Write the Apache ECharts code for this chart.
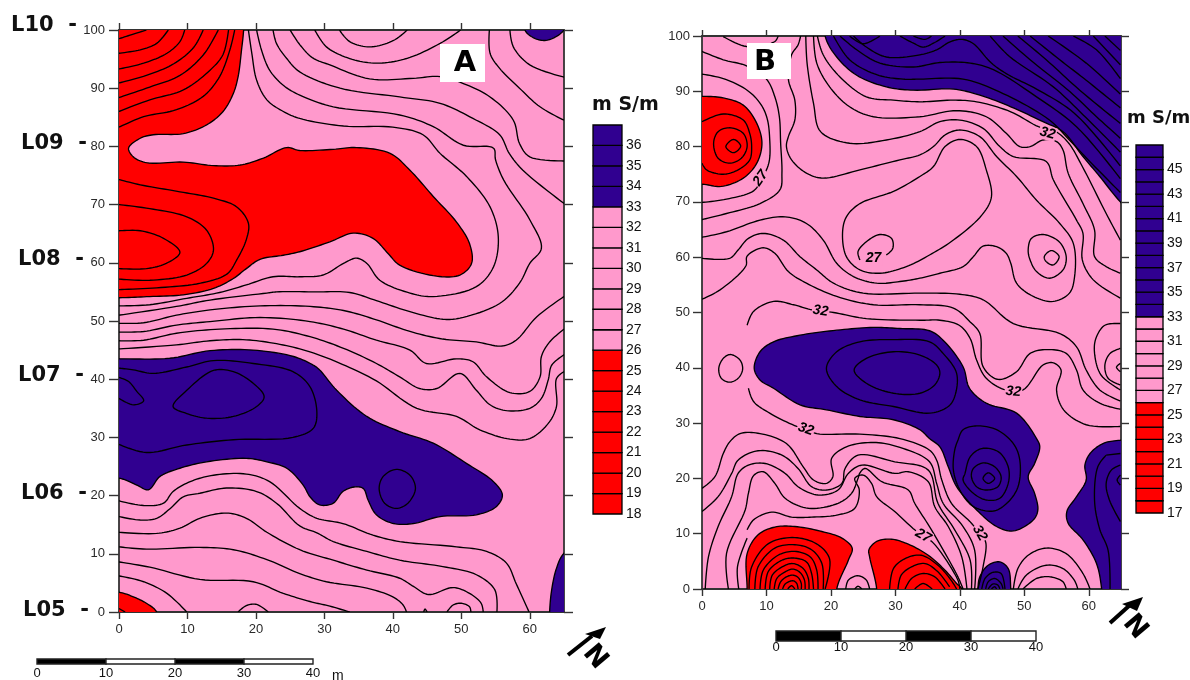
<!DOCTYPE html>
<html><head><meta charset="utf-8">
<style>html,body{margin:0;padding:0;background:#fff}#c{width:1190px;height:680px}</style>
<script src="https://cdn.jsdelivr.net/npm/echarts@6/dist/echarts.min.js"></script>
</head><body><div id="c"></div>
<script>
// ---------- ticks ----------
const xTicks=[0,10,20,30,40,50,60];
const yTicks=[0,10,20,30,40,50,60,70,80,90,100];
const scaleTicks=[0,10,20,30,40];
const legendALevels=[18,19,20,21,22,23,24,25,26,27,28,29,30,31,32,33,34,35,36];
const legendBLevels=[17,18,19,20,21,22,23,24,25,26,27,28,29,30,31,32,33,34,35,36,37,38,39,40,41,42,43,44,45,46];
const legendBTicks=[17,19,21,23,25,27,29,31,33,35,37,39,41,43,45];
const scaleBlack=[0,20];
const scaleWhite=[10,30];

// ---------- panel A: filled zones (data coords; points beyond the frame are clipped) ----------
const aRed=[[-8,54],[0,54],[4.5,54.2],[9.4,54.5],[13.8,55.6],[16.7,57.3],[18.6,59],[20.6,60.6],[24,61.3],[26.4,61.9],[30.8,63.6],[34.2,65.1],[37.1,64.2],[39.3,61.6],[41,59.6],[46.4,57.7],[49.8,57.9],[51.5,59.9],[51.2,63.3],[49.3,67],[45.9,71.4],[42.5,75.9],[39.6,78.8],[34.7,79.8],[31.3,79.5],[26.4,79.3],[24.5,79.8],[21.1,78],[17.7,76.8],[13.8,76.7],[9.4,77.3],[4,77.2],[2.1,78.2],[1.4,79.7],[3.1,81.4],[5,82],[9.4,82.2],[12.8,83.7],[15.2,86],[16.7,89.1],[17.4,92],[17.9,96.6],[18.2,100],[18.3,106],[-8,108]];
const aRedCorner=[[-6,3.6],[0,3.4],[2.1,2.6],[4,1.5],[5.5,0],[6.5,-6],[-6,-6]];
const aBlue=[[-8,43.5],[0,43.5],[7.4,43.6],[13.3,44.9],[19.6,45],[25.5,43.9],[28.4,42.4],[29.3,41.6],[31.8,38.1],[36.2,33.6],[41,31],[45.9,29],[50.8,25.5],[54.7,22.4],[56,20.1],[55.1,18.1],[52.2,16.7],[46.9,16.4],[43,15.2],[40.1,15.2],[37.6,16.7],[36.4,19.2],[35.7,21.2],[34.5,21.5],[32.7,20.7],[31.3,18.7],[29.3,18.4],[27.9,19.8],[26.9,21.8],[24.5,24.7],[21.6,25.8],[18.6,26.4],[12.8,25.8],[8.9,24.7],[6,23.3],[4.3,21],[2.6,21.8],[0,23],[-8,23]];
const aBlueTop=[[59.3,104],[59.3,100],[60.5,98.7],[62.2,98.2],[63.9,98.9],[65,100],[67,104]];
const aBlueCorner=[[70,14],[65,10.1],[63.9,7.5],[63.2,3.8],[62.9,0],[62.9,-6],[70,-6]];
// panel A: contours
const aRedLines=[
 [[0,98.5],[2.1,99.3],[4,100]],
 [[0,96],[3.1,96.6],[5.5,97.7],[7.2,100]],
 [[0,93.3],[3.6,94.3],[7,96],[8.9,98],[9.6,100]],
 [[0,90.9],[4,92.2],[8,94.2],[10.9,97],[12.3,100]],
 [[0,88.4],[4.5,90.2],[8.9,92.2],[12.3,95.7],[14.5,100]],
 [[0,86],[4.5,88],[9.4,89.7],[13.3,93.1],[15.2,95.8],[16,100]],
 [[0,83.3],[3.6,85.1],[8.4,86.3],[12.3,88.6],[14.7,92],[16.2,96.6],[16.9,100]],
 [[0,74.3],[3.1,73.4],[8.9,72.2],[13.8,71.1],[17.2,69.6],[18.9,66.8],[18.6,64],[17.2,60.5],[15.8,58.1],[11.9,56.5],[5.5,55.7],[0,55.4]],
 [[0,70],[4.5,69.3],[9.9,67.9],[12.8,65.6],[13.8,62.2],[12.8,59.9],[9.9,57.9],[4.5,57],[0,57.2]],
 [[0,65.5],[3.1,65.5],[6.5,64.2],[8.9,61.8],[6.9,59.9],[4,59],[0,59]],
 [[0,0.6],[0.9,0]]
];
const aUpperLines=[
 [[28.6,100],[30.3,97.1],[33.7,95.1],[37.6,94.3],[42,95.1],[46.9,97.7],[49.9,100]],
 [[32.2,100],[33.7,98],[36.6,97.1],[40.1,98.2],[42.1,100]],
 [[25,100],[26.4,97.5],[28.3,95.2],[30.8,94],[36.6,91.6],[43,91.7],[46.9,92],[50.3,90.8],[54.2,88.5],[57.6,84.5],[58.5,80.5],[60,78.2],[65,77.5]],
 [[54.1,100],[54.2,96],[55.6,93.4],[58.5,90],[61.5,86.8],[65,84.5]],
 [[57.1,100],[57.6,97.1],[60,94],[65,91.9]],
 [[22.5,100],[23,97.7],[24.5,95.1],[26.4,92.8],[32.3,90],[41,88.5],[46.9,87.4],[51.7,84.8],[55.6,82],[57,78.8],[59,75.9],[65,70.2]],
 [[20.1,100],[20.8,96.6],[22,93.1],[24,90.5],[26.4,88.8],[31.3,86.8],[41,85.4],[45.9,83.4],[50.3,80.2],[54.7,79.7],[55,77.7],[56.2,74.2],[60,67.4],[61.7,62.5],[60,59.9],[58.5,56.5],[55.6,53],[49.8,50.5],[47.3,50.3],[42.5,51.6],[37.6,53.5],[33.7,54.9],[28.9,55],[23,55],[21.6,54.8],[13.3,53.6],[8.4,52.5],[0,51]],
 [[18.9,100],[19.4,96],[20.1,91.4],[21.6,88],[24,86],[26.4,84.8],[32.8,83.5],[40,83.3],[44.4,82],[46.9,78.8],[50.8,74.8],[54.2,69.6],[55.4,64.5],[54.7,59.3],[52.2,55.9],[45.9,54.2],[42.5,54.8],[38.1,57],[36.2,59.9],[34.7,60.8],[32.8,59.9],[29.8,57.9],[26.4,57.6],[22.5,57.6],[18.6,56.2],[14.7,54.9],[9.9,53.9],[4.5,52.8],[0,52.6]]
];
const aMiddleLines=[
 [[0,49.6],[3.6,49.7],[8.4,51],[13.3,51.9],[20.6,52.6],[27.9,52.5],[32.8,51.8],[37.6,50.2],[42.5,48.2],[47.3,46.9],[52.2,46.4],[55.9,45.7],[58,46.7],[61,50.7],[65,54.2]],
 [[0,48.1],[3.6,48.2],[8.4,49.3],[13.3,49.9],[20.6,50.6],[27.9,49.9],[32.8,48.6],[37.6,46.7],[42.5,45],[44.9,42.7],[49.3,43.5],[51.7,43],[53.7,40.4],[57.1,37.7],[60,37.9],[61.5,40.4],[61.7,43.9],[62.9,46.4],[65,48.6]],
 [[0,46.6],[3.6,46.7],[8.4,47.9],[14.7,48.6],[22.5,48.6],[27.9,47.3],[32.8,45.3],[37.6,42.7],[41,40.4],[43.9,38.4],[46.4,38.4],[49.8,41],[52.2,38.1],[54.2,35.6],[56.6,34.6],[60,35],[61.7,36.7],[62.7,39.9],[63.2,42.4],[65,44.2]],
 [[0,45.2],[8.4,45.9],[13.3,46.6],[18.1,46.8],[23,46.1],[27.9,44.7],[33.7,42],[37.6,39.7],[43.5,35],[49.3,33.6],[52.7,31.3],[57.1,29.7],[60,29.8],[62.7,32.4],[63.9,35.3],[63.9,40.1],[65,41.3]]
];
const aBlueLines=[
 [[0,41.9],[2.1,41.6],[5,41],[9.9,42.1],[13.8,43.2],[19.6,42.7],[25.4,41.3],[27.9,38.7],[28.9,34.4],[28.4,31.6],[25.4,30],[16.7,29.6],[9.9,28.7],[4,27.4],[0,28.8]],
 [[0,40.3],[1.4,39.6],[2.6,37.9],[3.6,36.3],[2.1,35.6],[0,36.7]]
];
const aLoops=[
 [[7.9,35.3],[9.9,38.1],[13.8,41.5],[16.7,41.3],[19.6,39.3],[21.2,37],[20.1,35.3],[16.7,33.6],[12.8,33.3],[9.9,34.1]],
 [[40.5,24.5],[42.5,23.5],[43.3,21.2],[42.2,18.7],[40.5,17.8],[38.8,18.7],[38,21.2],[38.6,23.3]]
];
const aLowerLines=[
 [[0,19.1],[3.6,18.3],[6.5,18.7],[7.9,20.7],[10.4,22.4],[13.8,23.5],[18.6,23.7],[22,22.4],[26.4,17.8],[28.9,16.1],[32.7,15.2],[37.1,13.2],[41,12.1],[49.3,11.2],[53.7,10.4],[56.6,8.4],[58,4.9],[59.9,0]],
 [[0,16.4],[3.1,15.8],[5.5,16.1],[7.5,17.8],[9.4,19.8],[11.8,20.4],[15.7,21.3],[20.1,20.7],[23,18.7],[26.4,14.8],[28.9,13.6],[31.3,12.1],[36.2,10.4],[41,8.9],[47.3,7.8],[52.2,6.4],[54.9,3.8],[55.2,0]],
 [[0,13.7],[5.5,13.5],[8.9,14.4],[11.8,16.1],[15.7,17],[18.6,16.1],[21.6,13.7],[26.4,10.7],[31.3,8.9],[36.2,7.2],[41,5.8],[43,4.4],[45.2,3],[48.8,4.2],[51.2,3.2],[52.9,1.5],[53.2,0]],
 [[0,11.2],[4,10.8],[11.8,11.1],[16.7,10.7],[21.6,9],[26.4,6.6],[30.3,5.2],[36.2,4.1],[40,2.6],[41.5,1.2],[42,0]],
 [[0,8.6],[4.5,7.7],[11.8,5.6],[19.6,5.2],[24,3.2],[27.9,1.8],[30.8,1],[33.7,0]],
 [[0,6.2],[3.6,5.2],[7,3.2],[9.9,0]],
 [[17.4,0],[18.6,1.1],[20.1,1.3],[21.8,0]],
 [[47.9,0],[48.8,1.2],[50,1.5],[51.2,0.9],[51.4,0]],
 [[44.5,0],[44.7,0.5],[45,0]]
];

// ---------- panel B: filled zones ----------
const bRedCircle=[[0,89.1],[3.3,88.8],[6.4,87.5],[8.5,84.2],[9.3,80.6],[8.5,77],[6.4,74.3],[3,72.8],[0,73.2],[-6,73],[-6,89]];
const bRedLobe1=[[7,0],[7,6.4],[8.7,9.8],[11.3,11.2],[14.4,11.3],[18.6,10.4],[21.7,9.2],[23.3,7.4],[22.7,5.2],[20.9,0],[20.9,-6],[7,-6]];
const bRedLobe2=[[27.1,0],[26,5.8],[25.9,7.1],[27.1,8.6],[29.4,9],[32,8.1],[35.1,6.1],[37.7,3.4],[39.5,1],[40.3,0],[41,-6],[27,-6]];
const bBlueTop=[[19.1,100],[20.9,96.2],[24,92.9],[28.6,90.8],[32.8,90.2],[39,90.4],[43.1,89.3],[47.9,87.2],[52.9,84.5],[56,82.7],[59.1,78.2],[61.7,74.6],[64.9,70],[71,63],[72,108],[19,108]];
const bBlueCentre=[[8.1,39.9],[9,42.9],[11.1,44.7],[15.2,45.9],[20.9,46.8],[26.6,47.3],[30.7,47.1],[35.3,46.7],[37.4,45],[40.5,40.2],[41.5,36.3],[44.1,33.6],[48.8,31.8],[51.9,27.2],[52.4,25.7],[51.6,22.7],[50.6,20.3],[51.6,17.3],[52.1,14.3],[51.4,12.5],[48.3,10.5],[45.7,11.3],[42.6,14.3],[39.5,18.5],[38.2,22.1],[36.9,25.7],[35.3,27.2],[33.8,28.8],[29.7,30.6],[24.5,31.2],[19.3,32.4],[15.2,33.3],[11.1,36.3],[9,37.8]];
const bBlueBlob=[[42.8,0],[43.1,2.2],[44.4,4.3],[46.2,4.9],[47.5,3.7],[47.9,0],[48,-6],[42.7,-6]];
const bBlueRight=[[72,27],[64.9,26.9],[62.2,26.3],[60.2,24.5],[59.4,22.4],[59.6,19.7],[58.1,16.7],[56.6,14],[56.8,11.9],[59.1,8.9],[61.2,4.6],[62,0],[62.3,-6],[72,-6]];
// panel B: contours
const bTopLines=[
 [[62.5,100],[64.9,97.4]],
 [[60.7,100],[64.9,94.8]],
 [[57.6,100],[61.2,97.5],[64.9,92.3]],
 [[53.7,100],[59.6,95.1],[64.9,89.5]],
 [[50.9,100],[55.5,95.7],[59.6,92],[64.9,87]],
 [[49,100],[53.4,95.7],[58.6,90.2],[64.9,84.2]],
 [[46.7,100],[50.9,95.7],[57.1,89.9],[61.2,85.4],[64.9,81.5]],
 [[44.7,100],[47.7,96.3],[54.5,90.8],[59.6,85.2],[64.9,79]],
 [[23.5,100],[25.5,98],[28.6,96.2],[33.8,96.6],[36.4,97.5],[38.4,98.9],[40.2,99.4],[42,98.7],[44.9,95.1],[47.5,93],[51.9,90.4],[57.8,86],[64.9,76.5]],
 [[21.4,100],[24,97.5],[27.6,95.1],[32.8,94.4],[36.9,95.2],[41.6,95.1],[45.2,93.9],[51.9,89],[58.1,83.6],[64.9,74.2]],
 [[20.4,100],[22.9,95.7],[27.1,93],[31.2,92.2],[33.8,92.2],[40.5,92.2],[46.7,89.6],[53.9,84.8],[57,81.2],[60,77.5],[64.9,71.7]],
 [[22.9,100],[25,98.6],[27.6,100]],
 [[30.7,100],[32.8,98.7],[34.3,98],[35.9,98.7],[37.7,100]],
 [[32.8,100],[34.6,99.4],[35.6,100]]
];
const bUpperLines=[
 [[3.3,99.9],[6.9,98.1],[11.3,99],[11.8,100]],
 [[0,97.2],[3.3,95.7],[6.9,94.6],[10,92.2],[11.3,89],[12,85.4],[12.2,80.6],[12.4,75.2],[12.1,72.2],[9,69.7],[3.8,67.9],[0,66.8]],
 [[0,93.1],[3.3,92.3],[7,90.2],[9.1,87.7],[10.1,85.1],[10.5,81.4],[10.4,77.2],[9.3,74.2],[8,72],[3.8,70.5],[0,69.9]],
 [[15.3,100],[14.9,98.4],[13.9,96.6],[13.4,92.2],[14.4,88.4],[14.4,84.8],[13.4,81.8],[13.1,80],[13.9,77.6],[16.2,75.2],[18.8,74.3],[24.5,75.8],[30.7,77.6],[33.8,78.5],[35.9,80],[37.7,82.1],[40,83],[43.1,81.8],[45.7,78.2],[48.8,74.6],[51.9,70.3],[55.5,66.1],[57.6,62.5],[57.8,56.5],[57,53.5],[54.5,52],[51.4,52.9],[48.8,55.3],[47.9,58.9],[47.2,60.7],[45.7,61.9],[43.6,62],[42.1,60.1],[40.5,58.3],[36.9,57.1],[33.8,56.2],[30.7,55.6],[27.1,55.3],[23.5,56.5],[20.9,58.9],[18.8,63.1],[16.2,66.1],[12.9,67.3],[9,66.7],[3.8,64.6],[0,63.6]],
 [[17.9,100],[18.8,96.6],[21.4,92.6],[25.5,89],[29.7,88.4],[33.8,88.1],[39,88.4],[42.6,88.1],[47.9,86.3],[52.2,83.6],[54.9,82.7],[56.9,80.6],[59,76.4],[62.7,67.9],[64.9,63.1]],
 [[17.3,100],[17.8,95.1],[19.8,90.8],[22.9,87.2],[26.6,85.4],[33.8,85.4],[39.5,86.5],[44.1,85.4],[47.2,82.4],[49.3,80],[50.9,80],[52.9,81.2],[55,80.9],[56,79.4],[56.8,75.2],[59.1,69.7],[60.9,64.9],[60.9,60.1],[62.7,58.3],[64.9,57.1]],
 [[16.1,100],[16.3,95.1],[17.3,87.8],[18.4,82.7],[22.9,80.6],[28.6,81.2],[33.8,82.7],[36.9,84.5],[40,84.8],[43.6,83.3],[46.2,80],[48.3,78.2],[53.4,77.3],[54.5,74],[58.1,66.7],[59.1,64.3],[59,59.5],[60.7,55.9],[64.9,52.6]],
 [[24.5,59.5],[24.2,61],[25.5,62.8],[27.6,64.1],[29.4,63.4],[29.6,61.6],[28.6,60.4]]
];
const bMiddleLines=[
 [[0,59.8],[4.3,59.8],[5.6,61.3],[7.2,63.4],[9.5,64.3],[12.6,63.1],[15.2,60.1],[17.8,57.7],[20.4,55.3],[25,53.5],[33.8,53.5],[40,53.3],[43.6,52.3],[48.3,48],[55.5,46.2],[58.1,43.8],[59.6,39.6],[61.7,36],[64.9,34]],
 [[0,52.4],[2.8,54.1],[6.8,58.4],[7,60.2],[9.5,61.7],[11.3,60.7],[13.4,57.4],[16.2,55.3],[20.9,52.9],[26.6,51.4],[33.8,51.4],[39,50.8],[41.6,48.3],[43.1,46.2],[43.6,40.2],[45.9,37.9],[48.8,39.3],[50.9,42.6],[53.7,43.3],[56.5,42.6],[58.1,39.6],[59.1,36],[61.7,33.6],[64.9,32.5]],
 [[7,47.7],[8,50.2],[11.1,52],[14.2,51.4],[17,50.5],[20.4,50],[25.5,48.9],[33.8,48.6],[36.9,48.6],[39.9,47.7],[41.6,45.3],[42.6,41.4],[44.1,38.1],[47.1,36],[49.8,36],[52.9,40.5],[54.5,40.9],[55.7,39.6],[55,36],[56.1,32.4],[59.6,29.7],[64.9,29.4]],
 [[7.2,36.3],[8,33.9],[10.5,31.8],[14.7,29.4],[16.2,28.9],[17.8,28.1],[24.5,28],[30.7,27.2],[35.3,25.1],[36.4,23.3],[37.2,19.7],[38.7,15.5],[41.8,11.9],[43.1,9.8],[44,8.5],[43.6,4],[42.8,0]],
 [[64.9,48],[62.5,47.7],[61.1,45.3],[60.9,42.6],[61.9,38.7],[64.9,36]],
 [[64.9,43.5],[63.3,42.6],[62.5,40.5],[63,38.1],[64.9,36.9]],
 [[64.9,40.8],[64.3,40.1],[64.9,39.3]]
];
const bLowerLines=[
 [[0,18.2],[2,20.3],[3.3,24.5],[4.3,26.6],[5.9,28.1],[9,28.1],[13.1,26.3],[15.7,22.1],[17.3,19.7],[19.3,19.1],[20.3,20.3],[20.1,23.6],[22.4,25.7],[26.6,26.5],[30.7,25.6],[35.3,23],[36.4,19.1],[37.4,15.5],[40.5,11.3],[42.3,7],[42.3,0]],
 [[0,14],[2.5,16.7],[4.6,20.9],[5.6,23.3],[8.7,25],[12.4,24.2],[14.9,21.8],[17,18.5],[19.3,17.9],[21.7,19.1],[22.2,21.8],[24.2,24.2],[29.9,23],[35.1,21.5],[36.6,15.5],[39.2,10.7],[41.6,5.2],[41.8,0]],
 [[0.5,0],[1,5.8],[2.5,11.3],[4.6,16.7],[5.6,20.9],[7.2,22.4],[9.8,22.7],[12.9,20.9],[14.9,18.5],[18,17],[21.1,17.9],[22.7,20.9],[24.8,22.4],[29.9,20.9],[32,21.2],[35.1,19.4],[36.1,14.9],[38.2,11.3],[40.3,5.8],[41.1,0]],
 [[4.1,0],[3.8,6.4],[6.7,14.3],[7.2,17.3],[8,20.5],[9.5,21.2],[11.3,19.1],[12.9,16.4],[16.5,14.6],[21.1,15.5],[23.2,17.3],[24.2,20],[24.5,21],[25.3,21.8],[27.9,19.4],[32,17.9],[33,15.5],[35.6,10.7],[39.7,2.2],[40.5,0]],
 [[5.7,0],[5.5,4],[7,9.2]],
 [[7,10.7],[8,12.5],[10.8,13.9],[13.9,13],[17,13],[21.1,13.4],[23.7,14.6],[24.4,17.9],[23.7,20],[25,20.6],[26.3,19.1],[27.1,16.7],[29.9,14],[33,10.7],[34.3,9.6],[35.9,8.3],[39.7,1.6],[40,0]],
 [[22.3,0],[22.7,1.6],[24.2,2.4],[25.5,1.6],[26,0]],
 [[23.7,0],[24.2,0.5],[24.8,0]],
 [[48.3,0],[49,3.7],[50.6,6.1],[53.4,7.4],[56.5,6.4],[59.1,2.8],[60.2,0]],
 [[49,0],[50.3,2.5],[53.4,4.3],[56,3.7],[57.8,1.5],[58.3,0]],
 [[49.8,0],[51.9,1.9],[54,2.2],[56,1.3],[56.5,0]],
 [[62.7,24.2],[61.4,22.1],[60.9,15.9],[61.7,10.8],[63,7],[63.3,0]],
 [[64.9,24.5],[62.7,24.2]],
 [[64.9,22.4],[63.5,21.5],[62.7,19.1],[63.2,16.1],[64.9,12.2]],
 [[64.9,20.6],[64.4,19.7],[64.9,18.8]]
];
const bRedLines=[
 [[0,84.5],[3.3,85.9],[6.4,84.8],[7.4,82.4],[7.7,80],[7.4,77.6],[5.6,75.8],[3.3,75],[0.7,75.8],[0,77]],
 [[7.3,0],[7.7,4],[10.3,8.2],[14.4,9.3],[18,8],[19.8,5.4],[19.1,0]],
 [[8.2,0],[8.7,4],[11.3,7.4],[14.4,8],[17,7.1],[18.6,4.6],[18.8,0]],
 [[9,0],[9.5,3.4],[11.8,6.1],[14.4,6.8],[16.8,5.8],[17.8,3.4],[18,0]],
 [[9.8,0],[10.3,3.2],[12.4,5.2],[14.2,5.6],[16.2,4.9],[17,2.8],[17.3,0]],
 [[10.5,0],[10.9,2.5],[12.6,4.1],[14.1,4.6],[15.7,3.7],[16.5,1.9],[16.6,0]],
 [[11.2,0],[11.6,1.9],[12.9,3.1],[14.1,3.6],[15.2,3],[15.9,1.6],[16,0]],
 [[11.8,0],[12.2,1.3],[13.1,2.2],[14.1,2.5],[14.9,2.1],[15.4,1],[15.4,0]],
 [[12.5,0],[12.9,0.9],[14.1,1.5],[14.7,1],[14.9,0]],
 [[13.3,0],[13.9,0.6],[14.4,0]],
 [[29.1,0],[29.7,3.7],[31.5,5.5],[34,6.1],[36.6,4.3],[38.7,1.5],[39.5,0]],
 [[30.4,0],[30.9,2.5],[32.5,4],[34.6,4.6],[36.6,3.1],[38.4,0.4]],
 [[31.5,0],[32.5,1.9],[34.3,2.8],[36.1,2.2],[37.7,0]],
 [[33,0],[34.3,1],[35.7,0]],
 [[43.4,0],[43.9,1.9],[45.1,3],[46.4,2.8],[47,0]],
 [[44,0],[44.4,1.3],[45.4,1.9],[46.4,1],[46.7,0]],
 [[44.4,0],[45.1,0.9],[45.9,0.7],[46.2,0]],
 [[44.9,0],[45.4,0.4],[45.7,0]]
];
const bLoops=[
 [[1.8,80.6],[2.5,82.7],[4.3,83.4],[6.4,82.4],[7,80],[6.1,77.9],[4.3,77],[2.5,77.9]],
 [[3.7,80],[4.9,81.3],[6,80.1],[4.9,78.9]],
 [[33.8,74.6],[29.7,71.9],[24.5,69.7],[22.4,67.3],[21.8,64.3],[22.4,60.1],[24.5,57.7],[27.6,57.1],[31.7,58.3],[35.3,60.4],[39,63.1],[43.4,67.6],[44.9,70.9],[44.1,75.8],[42.6,80],[40,81.3],[37.7,80],[35.9,76.4]],
 [[50.6,61.3],[51.1,63.4],[52.9,64.1],[55.4,62.8],[56.5,60.1],[56,57.7],[53.9,56.2],[51.9,57.4],[50.9,59.5]],
 [[53.1,60.1],[54.2,61.2],[55.4,60.1],[54.5,58.6],[53.4,59.2]],
 [[2.6,39.9],[3.3,41.7],[4.4,42.4],[5.9,41.4],[6.3,39.7],[5.6,38.1],[4.3,37.4],[3,38.1]],
 [[19.3,39.9],[20.9,42.9],[24.5,44.7],[29.7,45.1],[35.3,44.7],[37.4,42.6],[39.5,39],[39.2,34.8],[38.2,33],[35.3,31.8],[29.7,33],[24.5,34.2],[20.9,36.6]],
 [[23.6,39.6],[25.5,41.7],[29.7,42.9],[33.8,42.3],[36.4,40.5],[36.9,39],[36.1,36.9],[33.8,35.4],[29.7,35.4],[25.5,37.2]],
 [[39.7,26.9],[40.5,28.8],[42.6,29.5],[45.7,28.8],[48.3,26.3],[49.3,23.3],[49,18.4],[47.2,15.4],[45.2,14.1],[42.1,14.9],[40,17.9],[39,21.5],[39.2,25.1]],
 [[40.8,20.9],[41.6,23.9],[43.4,25.4],[46,24.8],[47.5,22.1],[47.5,19.1],[46.2,16.4],[44.1,16.1],[42.1,17.3],[40.5,19.7]],
 [[41.8,20.3],[42.1,21.8],[43.6,22.8],[45.4,22.1],[46.4,20.3],[45.9,18.5],[44.1,17.9],[42.6,18.5]],
 [[43.6,20],[44.4,21],[45.4,20],[44.4,19.1]]
];
// contour value labels: x, y, text, rotation in degrees (counter-clockwise)
const bContourLabels=[[9.1,74.3,'27',55],[26.6,59.8,'27',0],[18.4,50.3,'32',-8],[53.6,82.4,'32',-15],[16.1,28.9,'32',-20],[48.3,35.7,'32',-5],[34.3,9.6,'27',-30],[43.1,10.1,'32',-60]];

// ---------- styles ----------
const PINK='#ff99cc',RED='#ff0000',BLUE='#300090',INK='#000000';
const AXC='#333333',FONT='"Liberation Sans",Arial,sans-serif',BOLD='"DejaVu Sans",sans-serif';
const LW=1.35;

function spline(p,closed){
  const n=p.length;if(n<3)return p;const out=[];
  const at=i=>closed?p[(i+n)%n]:p[Math.max(0,Math.min(n-1,i))];
  const segs=closed?n:n-1;const K=10;
  for(let i=0;i<segs;i++){
    const P0=at(i-1),P1=at(i),P2=at(i+1),P3=at(i+2);
    const d=(a,b)=>Math.max(1e-3,Math.pow(Math.hypot(a[0]-b[0],a[1]-b[1]),0.5));
    const t0=0,t1=t0+d(P0,P1),t2=t1+d(P1,P2),t3=t2+d(P2,P3);
    for(let k=0;k<K;k++){
      const t=t1+(t2-t1)*k/K;
      const L=(a,b,ta,tb)=>[a[0]+(b[0]-a[0])*(t-ta)/(tb-ta),a[1]+(b[1]-a[1])*(t-ta)/(tb-ta)];
      const A1=L(P0,P1,t0,t1),A2=L(P1,P2,t1,t2),A3=L(P2,P3,t2,t3);
      const B1=L(A1,A2,t0,t2),B2=L(A2,A3,t1,t3);
      out.push(L(B1,B2,t1,t2));
    }
  }
  if(!closed)out.push(p[n-1]);
  return out;
}
function contourSeries(grid,fills,lines,loops,labels){
  const items=[];
  fills.forEach(f=>items.push({pts:f[0],fill:f[1],closed:true}));
  lines.forEach(l=>items.push({pts:l,closed:false}));
  loops.forEach(l=>items.push({pts:l,closed:true}));
  labels.forEach(t=>items.push({label:t}));
  return {type:'custom',coordinateSystem:'cartesian2d',xAxisIndex:grid.x,yAxisIndex:grid.y,clip:true,silent:true,animation:false,
    data:items.map(()=>[0,0]),
    renderItem(params,api){
      const it=items[params.dataIndex];
      if(it.label){
        const c=api.coord([it.label[0],it.label[1]]);
        return {type:'text',x:c[0],y:c[1],rotation:it.label[3]*Math.PI/180,
          style:{text:it.label[2],x:0,y:0,align:'center',verticalAlign:'middle',fill:'#000',font:'italic bold 14px '+FONT,backgroundColor:PINK,padding:[0,1]}};
      }
      const px=spline(it.pts.map(p=>api.coord(p)),it.closed);
      if(it.closed&&it.fill)return {type:'polygon',shape:{points:px},style:{fill:it.fill,stroke:INK,lineWidth:LW}};
      if(it.closed)return {type:'polygon',shape:{points:px},style:{fill:'none',stroke:INK,lineWidth:LW}};
      return {type:'polyline',shape:{points:px},style:{fill:'none',stroke:INK,lineWidth:LW}};
    }};
}
function valAxisX(grid,pos,show,len,margin){
  return {type:'value',gridIndex:grid,position:pos,min:0,max:65,
    axisLine:{show:true,onZero:false,lineStyle:{color:AXC,width:1.8}},
    axisTick:{show:true,length:len,customValues:xTicks,lineStyle:{color:AXC,width:1.4}},
    axisLabel:{show,customValues:xTicks,margin,fontFamily:FONT,fontSize:13,color:'#2a2a2a'},splitLine:{show:false}};
}
function valAxisY(grid,pos,show,len,margin){
  return {type:'value',gridIndex:grid,position:pos,min:0,max:100,
    axisLine:{show:true,onZero:false,lineStyle:{color:AXC,width:1.8}},
    axisTick:{show:true,length:len,customValues:yTicks,lineStyle:{color:AXC,width:1.4}},
    axisLabel:{show,customValues:yTicks,margin,fontFamily:FONT,fontSize:13,color:'#2a2a2a'},splitLine:{show:false}};
}
function legendSeries(xi,yi,levels,redTop,blueFrom){
  return {type:'custom',coordinateSystem:'cartesian2d',xAxisIndex:xi,yAxisIndex:yi,silent:true,animation:false,
    data:levels.map(v=>[0,v]),
    renderItem(params,api){
      const v=api.value(1);const a=api.coord([0,v+1]),b=api.coord([1,v]);
      const col=v<redTop?RED:(v<blueFrom?PINK:BLUE);
      return {type:'rect',shape:{x:a[0],y:a[1],width:b[0]-a[0],height:b[1]-a[1]},style:{fill:col,stroke:'#000',lineWidth:1.3}};
    }};
}
function legendAxes(grid,min,max,ticks){
  return {y:{type:'value',gridIndex:grid,position:'right',min,max,interval:1,axisLine:{show:false},axisTick:{show:false},splitLine:{show:false},
      axisLabel:{customValues:ticks,margin:4,fontFamily:FONT,fontSize:14,color:'#111'}},
    x:{type:'value',gridIndex:grid,min:0,max:1,show:false}};
}
function scaleSeries(xi,yi){
  const segs=scaleBlack.map(s=>[s,1]).concat(scaleWhite.map(s=>[s,0]));
  return {type:'custom',coordinateSystem:'cartesian2d',xAxisIndex:xi,yAxisIndex:yi,silent:true,animation:false,
    data:segs,
    renderItem(params,api){
      const s=api.value(0),k=api.value(1);const a=api.coord([s,1]),b=api.coord([s+10,0]);
      return {type:'rect',shape:{x:a[0],y:a[1],width:b[0]-a[0],height:b[1]-a[1]},style:{fill:k?'#000':'#fff',stroke:'#222',lineWidth:1.4}};
    }};
}
function scaleX(grid,margin){
  return {type:'value',gridIndex:grid,position:'bottom',min:0,max:40,interval:10,axisLine:{show:false},axisTick:{show:false},splitLine:{show:false},
    axisLabel:{margin,fontFamily:FONT,fontSize:13,color:'#111'}};
}
const scaleY=g=>({type:'value',gridIndex:g,min:0,max:1,show:false});

const LA=legendAxes(2,18,37,legendALevels), LB=legendAxes(3,17,47,legendBTicks);

const lineLabels=[['L10',11,26],['L09',21,144],['L08',18,260],['L07',18,376],['L06',21,494],['L05',23,611]];
const boldText=(text,x,y,size,extra)=>Object.assign({type:'text',x,y,z:100,style:{text,x:0,y:0,align:'left',verticalAlign:'middle',fill:'#111',font:'bold '+size+'px '+BOLD}},extra||{});
function north(tipx,tipy,b1,b2,s1,s2,nx,ny){
  return [
   {type:'polygon',z:100,shape:{points:[[tipx,tipy],b1,b2]},style:{fill:'#000'}},
   {type:'line',z:100,shape:{x1:s1[0],y1:s1[1],x2:s2[0],y2:s2[1]},style:{stroke:'#000',lineWidth:4}},
   {type:'text',x:nx,y:ny,z:100,rotation:-0.87,style:{text:'N',x:0,y:0,align:'center',verticalAlign:'middle',fill:'#000',font:'bold 27px '+BOLD}}
  ];
}
const graphics=[
 {type:'rect',z:100,shape:{x:440,y:44,width:45,height:38},style:{fill:'#fff'}},
 {type:'rect',z:100,shape:{x:747,y:43,width:44,height:36},style:{fill:'#fff'}},
 {type:'text',x:465,y:63,z:101,style:{text:'A',x:0,y:0,align:'center',verticalAlign:'middle',fill:'#000',font:'bold 29px '+BOLD}},
 {type:'text',x:765,y:62,z:101,style:{text:'B',x:0,y:0,align:'center',verticalAlign:'middle',fill:'#000',font:'bold 29px '+BOLD}},
 boldText('m S/m',592,105,19),boldText('m S/m',1127,118,18),
 {type:'text',x:332,y:676,z:100,style:{text:'m',x:0,y:0,align:'left',verticalAlign:'middle',fill:'#111',font:'14px '+FONT}}
].concat(lineLabels.map(l=>boldText(l[0]+'  -',l[1],l[2],21)))
 .concat(north(606,627,[585,634],[600,639],[568,655],[592,636],595,657))
 .concat(north(1143,597,[1122,604],[1137,611],[1110,623],[1130,605],1135,627));

const option={
 backgroundColor:'#fff',animation:false,
 grid:[
  {left:119,top:30,width:445,height:582,show:true,backgroundColor:PINK,borderWidth:0},
  {left:702,top:36,width:419,height:553,show:true,backgroundColor:PINK,borderWidth:0},
  {left:593,top:125,width:29,height:389},
  {left:1136,top:145,width:27,height:368},
  {left:37,top:659,width:276,height:9},
  {left:776,top:631,width:260,height:10}
 ],
 xAxis:[
  valAxisX(0,'bottom',true,7,11),valAxisX(0,'top',false,7,5),
  valAxisX(1,'bottom',true,7,11),valAxisX(1,'top',false,6,5),
  LA.x,LB.x,scaleX(4,3),scaleX(5,0)
 ],
 yAxis:[
  valAxisY(0,'left',true,10,14),valAxisY(0,'right',false,9,5),
  valAxisY(1,'left',true,9,12),valAxisY(1,'right',false,8,5),
  LA.y,LB.y,scaleY(4),scaleY(5)
 ],
 series:[
  contourSeries({x:0,y:0},[[aRed,RED],[aRedCorner,RED],[aBlue,BLUE],[aBlueTop,BLUE],[aBlueCorner,BLUE]],
     [].concat(aRedLines,aUpperLines,aMiddleLines,aBlueLines,aLowerLines),aLoops,[]),
  contourSeries({x:2,y:2},[[bRedCircle,RED],[bRedLobe1,RED],[bRedLobe2,RED],[bBlueTop,BLUE],[bBlueCentre,BLUE],[bBlueBlob,BLUE],[bBlueRight,BLUE]],
     [].concat(bTopLines,bUpperLines,bMiddleLines,bLowerLines,bRedLines),bLoops,bContourLabels),
  legendSeries(4,4,legendALevels,26,33),
  legendSeries(5,5,legendBLevels,26,33),
  scaleSeries(6,6),scaleSeries(7,7)
 ],
 graphic:graphics
};
const chart=echarts.init(document.getElementById('c'),null,{renderer:'canvas'});
chart.setOption(option);
</script></body></html>
